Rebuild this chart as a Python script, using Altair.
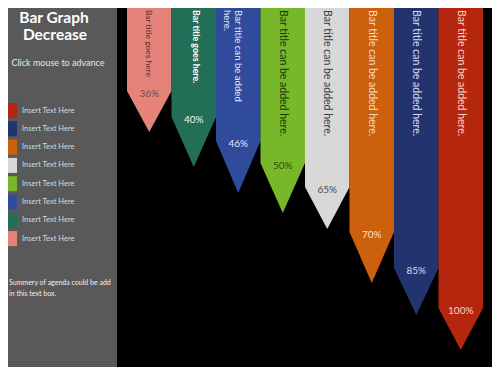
import altair as alt
import pandas as pd

# ---------------- data ----------------
title_lines = ["Bar Graph", "Decrease"]
subtitle = "Click mouse to advance"
legend_labels = ["Insert Text Here"] * 8
summary_lines = ["Summery of agenda could be add", "in this text box."]

bar_titles = [
    "Bar title goes here",
    "Bar title goes here.",
    "Bar title can be added\nhere.",
    "Bar title can be added here.",
    "Bar title can be added here.",
    "Bar title can be added here.",
    "Bar title can be added here.",
    "Bar title can be added here.",
]
pct_labels = ["36%", "40%", "46%", "50%", "65%", "70%", "85%", "100%"]
# depth of each arrow on a 0 (top) .. 375 (bottom) scale
shoulder_depth = [91, 117, 141, 163, 187, 232, 268, 308]
tip_depth = [132, 167, 193, 213, 229, 283, 315, 350]

# ---------------- styles ----------------
bar_colors = ["#E5837A", "#236E56", "#304A9C", "#77B82A",
              "#D8D8D8", "#CC600C", "#22336E", "#B5260E"]
title_colors = ["#5a2a26", "#ffffff", "#e4e8f4", "#1c3508",
                "#3a3a3a", "#f8dcc4", "#d8def0", "#f6d4cc"]
pct_colors = ["#7a4a45", "#eef4f0", "#e0e6f4", "#2e4c12",
              "#4a4a4a", "#f8e0cc", "#d4dcf0", "#f4d4cc"]
title_sizes = [8.4, 8.8, 9.6, 10.5, 10.5, 10.5, 10.5, 10.5]
FONT = "Lato"
PANEL = "#595959"
W, H = 484, 359
PANEL_W = 109

n = len(pct_labels)

# ---------------- arrow bars ----------------
area_rows = []
for i in range(n):
    area_rows.append({"bar": i, "x": i - 0.5, "y": shoulder_depth[i], "fill": bar_colors[i]})
    area_rows.append({"bar": i, "x": i, "y": tip_depth[i], "fill": bar_colors[i]})
    area_rows.append({"bar": i, "x": i + 0.5, "y": shoulder_depth[i], "fill": bar_colors[i]})
df_area = pd.DataFrame(area_rows)

df_bars = pd.DataFrame({
    "i": list(range(n)),
    "title": bar_titles,
    "pct": pct_labels,
    "shoulder": shoulder_depth,
    "tip": tip_depth,
    "tcol": title_colors,
    "pcol": pct_colors,
    "fs": title_sizes,
})

xs = alt.Scale(domain=[-3.1742, 7.7022], nice=False, zero=False)
ys = alt.Scale(domain=[8, 367], reverse=True, nice=False, zero=False)

panel = alt.Chart(pd.DataFrame({"a": [0]})).mark_rect(color=PANEL).encode(
    x=alt.value(0), x2=alt.value(PANEL_W), y=alt.value(0), y2=alt.value(H)
)

arrows = alt.Chart(df_area).mark_area(interpolate="linear", opacity=1).transform_calculate(
    top="8"
).encode(
    x=alt.X("x:Q", scale=xs, axis=None),
    y=alt.Y("y:Q", scale=ys, axis=None, stack=None),
    y2="top:Q",
    color=alt.Color("fill:N", scale=None),
    detail="bar:N",
)

titles_base = alt.Chart(df_bars).transform_calculate(top="10").encode(
    x=alt.X("i:Q", scale=xs, axis=None),
    y=alt.Y("top:Q", scale=ys, axis=None),
    text="title:N",
    color=alt.Color("tcol:N", scale=None),
    size=alt.Size("fs:Q", scale=None, legend=None),
)
titles_normal = titles_base.mark_text(
    angle=90, align="left", baseline="middle", font=FONT, lineBreak="\n", lineHeight=11
).transform_filter("datum.i != 1")
titles_bold = titles_base.mark_text(
    angle=90, align="left", baseline="middle", font=FONT, fontWeight="bold", dy=-2
).transform_filter("datum.i == 1")

pcts = alt.Chart(df_bars).mark_text(
    align="center", baseline="middle", font=FONT, fontSize=10, dy=3
).encode(
    x=alt.X("i:Q", scale=xs, axis=None),
    y=alt.Y("shoulder:Q", scale=ys, axis=None),
    text="pct:N",
    color=alt.Color("pcol:N", scale=None),
)

# ---------------- left panel texts and legend ----------------
t1 = alt.Chart(pd.DataFrame({"t": [title_lines[0]]})).mark_text(
    font=FONT, fontSize=15.5, fontWeight="bold", color="white", align="center", baseline="alphabetic"
).encode(x=alt.value(46), y=alt.value(14.5), text="t:N")
t2 = alt.Chart(pd.DataFrame({"t": [title_lines[1]]})).mark_text(
    font=FONT, fontSize=15.5, fontWeight="bold", color="white", align="center", baseline="alphabetic"
).encode(x=alt.value(47), y=alt.value(31.5), text="t:N")
t3 = alt.Chart(pd.DataFrame({"t": [subtitle]})).mark_text(
    font=FONT, fontSize=9, color="#e6e6e6", align="center", baseline="middle"
).encode(x=alt.value(50), y=alt.value(55), text="t:N")

legend_colors = list(reversed(bar_colors))
df_leg = pd.DataFrame({"k": list(range(n)), "label": legend_labels, "c": legend_colors})
ly = alt.Scale(domain=[0, 7], range=[102.5, 230.6], nice=False, zero=False)
leg_sq = alt.Chart(df_leg).mark_rect().transform_calculate(
    y0="datum.k - 0.41", y1="datum.k + 0.41"
).encode(
    x=alt.value(0), x2=alt.value(9),
    y=alt.Y("y0:Q", scale=ly, axis=None), y2="y1:Q",
    color=alt.Color("c:N", scale=None),
)
leg_tx = alt.Chart(df_leg).mark_text(
    font=FONT, fontSize=7.5, color="#d9d9d9", align="left", baseline="middle"
).encode(x=alt.value(14), y=alt.Y("k:Q", scale=ly, axis=None), text="label:N")

s1 = alt.Chart(pd.DataFrame({"t": [summary_lines[0]]})).mark_text(
    font=FONT, fontSize=7, color="#f0f0f0", align="left", baseline="middle"
).encode(x=alt.value(1), y=alt.value(275), text="t:N")
s2 = alt.Chart(pd.DataFrame({"t": [summary_lines[1]]})).mark_text(
    font=FONT, fontSize=7, color="#f0f0f0", align="left", baseline="middle"
).encode(x=alt.value(1), y=alt.value(285.5), text="t:N")

chart = alt.layer(
    panel, arrows, titles_normal, titles_bold, pcts,
    t1, t2, t3, leg_sq, leg_tx, s1, s2,
).resolve_scale(y="independent").properties(
    width=W, height=H, padding=0, background="#000000",
    autosize=alt.AutoSizeParams(type="none"),
).configure_view(strokeWidth=0, fill="#000000")

chart.save("out.html", embed_options={"renderer": "svg", "actions": False})
